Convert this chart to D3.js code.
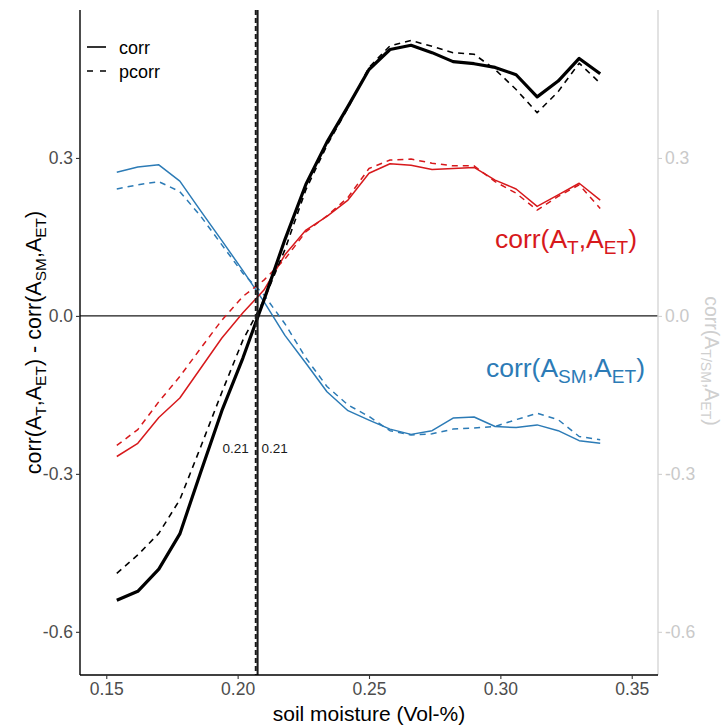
<!DOCTYPE html>
<html>
<head>
<meta charset="utf-8">
<script src="https://cdn.jsdelivr.net/npm/d3@7"></script>
<style>
  html, body { margin: 0; padding: 0; background: #fff; }
  svg { display: block; font-family: "Liberation Sans", Arial, Helvetica, sans-serif; }
</style>
</head>
<body>
<svg id="chart" width="723" height="726"></svg>
<script>
// ---- data ----
const soilMoisture = [0.154, 0.162, 0.170, 0.178, 0.186, 0.194, 0.202, 0.210, 0.218, 0.226, 0.234, 0.242,
                      0.250, 0.258, 0.266, 0.274, 0.282, 0.290, 0.298, 0.306, 0.314, 0.322, 0.330, 0.338];
const diffCorr  = [-0.540,-0.523,-0.481,-0.414,-0.296,-0.180,-0.080, 0.030, 0.145, 0.250, 0.330, 0.398,
                    0.468, 0.506, 0.514, 0.500, 0.483, 0.479, 0.472, 0.458, 0.416, 0.446, 0.489, 0.460];
const diffPcorr = [-0.489,-0.454,-0.413,-0.349,-0.248,-0.145,-0.046, 0.030, 0.126, 0.240, 0.324, 0.395,
                    0.472, 0.513, 0.523, 0.512, 0.500, 0.497, 0.468, 0.430, 0.386, 0.426, 0.480, 0.442];
const tCorr     = [-0.267,-0.242,-0.193,-0.156,-0.099,-0.042, 0.006, 0.049, 0.116, 0.163, 0.189, 0.220,
                    0.271, 0.289, 0.286, 0.278, 0.280, 0.282, 0.258, 0.241, 0.208, 0.230, 0.252, 0.220];
const tPcorr    = [-0.246,-0.216,-0.163,-0.115,-0.061,-0.008, 0.037, 0.068, 0.108, 0.160, 0.190, 0.225,
                    0.280, 0.296, 0.298, 0.290, 0.285, 0.285, 0.255, 0.233, 0.201, 0.227, 0.249, 0.204];
const smCorr    = [ 0.273, 0.283, 0.287, 0.256, 0.199, 0.143, 0.086, 0.027,-0.037,-0.090,-0.144,-0.180,
                   -0.198,-0.215,-0.225,-0.218,-0.194,-0.192,-0.210,-0.212,-0.207,-0.218,-0.237,-0.242];
const smPcorr   = [ 0.241, 0.249, 0.255, 0.236, 0.189, 0.135, 0.081, 0.040,-0.015,-0.080,-0.134,-0.169,
                   -0.191,-0.218,-0.226,-0.224,-0.215,-0.213,-0.210,-0.197,-0.185,-0.197,-0.229,-0.235];
const crossings = [{value: 0.2069, label: "0.21", dashed: true}, {value: 0.2076, label: "0.21", dashed: false}];
const xTicks = [0.15, 0.20, 0.25, 0.30, 0.35];
const yTicks = [-0.6, -0.3, 0.0, 0.3];
const legendItems = [{label: "corr", dashed: false}, {label: "pcorr", dashed: true}];

(function () {
// ---- layout ----
const pL = 80, pR = 658, pT = 10, pB = 675;
const RED = "#d7191c", BLUE = "#2c7bb6", GREYAX = "#c9c9c9";

const svg = d3.select("#chart");
const x = d3.scaleLinear().domain([0.14, 0.36]).range([pL, pR]);
const y = d3.scaleLinear().domain([-0.682, 0.581]).range([pB, pT]);

// rich text helper
function rich(sel, parts, size) {
  let sub = false;
  parts.forEach(p => {
    const t = sel.append("tspan").text(p.t);
    if (p.sub && !sub) { t.attr("dy", size * 0.22).attr("font-size", size * 0.72); sub = true; }
    else if (p.sub) { t.attr("font-size", size * 0.72); }
    else if (!p.sub && sub) { t.attr("dy", -size * 0.22).attr("font-size", size); sub = false; }
    else { t.attr("font-size", size); }
  });
}

// zero line
svg.append("line")
  .attr("x1", pL).attr("x2", pR).attr("y1", y(0)).attr("y2", y(0))
  .attr("stroke", "#1a1a1a").attr("stroke-width", 1.4);

// lines
const line = vals => d3.line().x((d, i) => x(soilMoisture[i])).y(d => y(d))(vals);
const series = [
  {vals: smPcorr, color: BLUE, w: 1.5, dash: "6,5"},
  {vals: smCorr,  color: BLUE, w: 1.5, dash: null},
  {vals: tPcorr,  color: RED,  w: 1.5, dash: "6,5"},
  {vals: tCorr,   color: RED,  w: 1.5, dash: null},
  {vals: diffPcorr, color: "#000", w: 1.6, dash: "6,5"},
  {vals: diffCorr,  color: "#000", w: 3.2, dash: null}
];
series.forEach(s => {
  svg.append("path").attr("d", line(s.vals))
    .attr("fill", "none").attr("stroke", s.color).attr("stroke-width", s.w)
    .attr("stroke-dasharray", s.dash).attr("stroke-linejoin", "round");
});

// vertical crossing lines
crossings.forEach(c => {
  svg.append("line")
    .attr("x1", x(c.value)).attr("x2", x(c.value)).attr("y1", pT).attr("y2", pB)
    .attr("stroke", "#1a1a1a").attr("stroke-width", 2)
    .attr("stroke-dasharray", c.dashed ? "5,3" : null);
});
svg.append("text").attr("x", x(crossings[0].value) - 7).attr("y", 453)
  .attr("text-anchor", "end").attr("font-size", 13.5).attr("fill", "#1a1a1a").text(crossings[0].label);
svg.append("text").attr("x", x(crossings[1].value) + 4).attr("y", 453)
  .attr("text-anchor", "start").attr("font-size", 13.5).attr("fill", "#1a1a1a").text(crossings[1].label);

// axes
const fmt1 = d => d.toFixed(1);
const fmt2 = d => d.toFixed(2);

const gL = svg.append("g").attr("transform", `translate(${pL},0)`)
  .call(d3.axisLeft(y).tickValues(yTicks).tickFormat(fmt1).tickSize(4).tickPadding(3));
gL.select(".domain").attr("stroke", "#000").attr("stroke-width", 1.4).attr("d", `M0,${pT}V${pB}`);
gL.selectAll(".tick line").attr("stroke", "#333").attr("stroke-width", 1.1);
gL.selectAll(".tick text").attr("fill", "#4d4d4d").attr("font-size", 17.5)
  .attr("font-family", "Liberation Sans, Arial, sans-serif");

const gR = svg.append("g").attr("transform", `translate(${pR},0)`)
  .call(d3.axisRight(y).tickValues(yTicks).tickFormat(fmt1).tickSize(4).tickPadding(3));
gR.select(".domain").attr("stroke", "#d6d6d6").attr("stroke-width", 1.4).attr("d", `M0,${pT}V${pB}`);
gR.selectAll(".tick line").attr("stroke", "#d0d0d0").attr("stroke-width", 1.1);
gR.selectAll(".tick text").attr("fill", GREYAX).attr("font-size", 17.5)
  .attr("font-family", "Liberation Sans, Arial, sans-serif");

const gB = svg.append("g").attr("transform", `translate(0,${pB})`)
  .call(d3.axisBottom(x).tickValues(xTicks).tickFormat(fmt2).tickSize(4).tickPadding(4));
gB.select(".domain").attr("stroke", "#000").attr("stroke-width", 1.4).attr("d", `M${pL},0H${pR}`);
gB.selectAll(".tick line").attr("stroke", "#333").attr("stroke-width", 1.1);
gB.selectAll(".tick text").attr("fill", "#4d4d4d").attr("font-size", 17.5)
  .attr("font-family", "Liberation Sans, Arial, sans-serif");

// axis titles
svg.append("text").attr("x", (pL + pR) / 2).attr("y", 721)
  .attr("text-anchor", "middle").attr("font-size", 21).attr("fill", "#000")
  .text("soil moisture (Vol-%)");

const yt = svg.append("text").attr("transform", `translate(41,${(pT + pB) / 2}) rotate(-90)`)
  .attr("text-anchor", "middle").attr("fill", "#000");
rich(yt, [{t: "corr(A"}, {t: "T", sub: true}, {t: ",A"}, {t: "ET", sub: true}, {t: ") - corr(A"},
          {t: "SM", sub: true}, {t: ",A"}, {t: "ET", sub: true}, {t: ")"}], 21.5);

const yr = svg.append("text").attr("transform", `translate(705,361) rotate(90)`)
  .attr("text-anchor", "middle").attr("fill", "#cfcfcf");
rich(yr, [{t: "corr(A"}, {t: "T/SM", sub: true}, {t: ",A"}, {t: "ET", sub: true}, {t: ")"}], 19.5);

// series labels
const lr = svg.append("text").attr("x", 637).attr("y", 248).attr("text-anchor", "end").attr("fill", RED);
rich(lr, [{t: "corr(A"}, {t: "T", sub: true}, {t: ",A"}, {t: "ET", sub: true}, {t: ")"}], 26.5);
const lb = svg.append("text").attr("x", 645).attr("y", 377).attr("text-anchor", "end").attr("fill", BLUE);
rich(lb, [{t: "corr(A"}, {t: "SM", sub: true}, {t: ",A"}, {t: "ET", sub: true}, {t: ")"}], 26.5);

// legend
legendItems.forEach((it, i) => {
  const ly = 47 + i * 24;
  svg.append("line").attr("x1", 87).attr("x2", 106).attr("y1", ly).attr("y2", ly)
    .attr("stroke", "#000").attr("stroke-width", 1.6)
    .attr("stroke-dasharray", it.dashed ? "6,7" : null);
  svg.append("text").attr("x", 119).attr("y", ly + 6.5).attr("font-size", 18).attr("fill", "#000")
    .text(it.label);
});
})();
</script>
</body>
</html>
